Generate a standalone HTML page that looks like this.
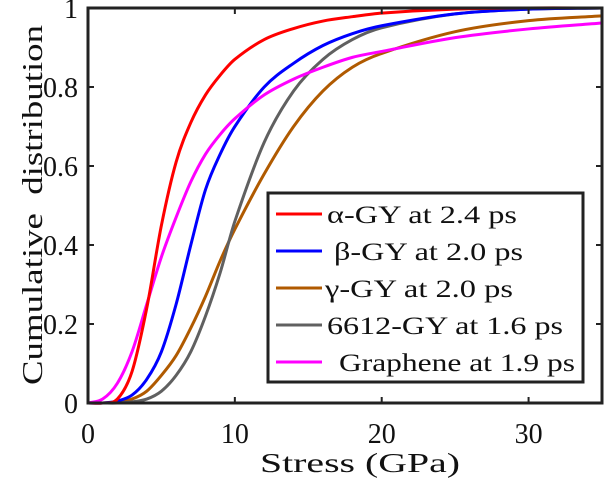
<!DOCTYPE html>
<html><head><meta charset="utf-8"><style>
body{margin:0;background:#fff;}
svg text{font-family:"Liberation Serif","Noto Serif CJK SC","DejaVu Serif",serif;fill:#111;}
</style></head><body>
<svg id="c" width="605" height="480">
<g id="marks"></g>
<rect x="88" y="8" width="514" height="395" fill="none" stroke="#222" stroke-width="3"/>
<g id="axes"></g>
<text x="-205" y="42" transform="rotate(-90)" text-anchor="middle" font-size="28" textLength="360" lengthAdjust="spacingAndGlyphs" xml:space="preserve">Cumulative  distribution</text>
<text x="360" y="472" text-anchor="middle" font-size="27" textLength="200" lengthAdjust="spacingAndGlyphs">Stress (GPa)</text>
<g id="legend">
<rect x="268" y="193" width="315" height="189" fill="#fff" stroke="#222" stroke-width="3"/>
</g>
</svg>
<script>
const stress=[0,1,2,3,4,5,6,7,8,9,10,12,14,16,18,20,25,30,35];
const alphaGY=[0,0,0.01,0.08,0.24,0.45,0.61,0.71,0.78,0.83,0.87,0.92,0.948,0.967,0.978,0.987,0.997,1,1];
const betaGY=[0,0,0.005,0.02,0.06,0.13,0.25,0.4,0.54,0.63,0.7,0.8,0.86,0.905,0.935,0.955,0.985,0.997,1];
const gammaGY=[0,0,0.002,0.01,0.03,0.07,0.12,0.19,0.27,0.36,0.44,0.58,0.7,0.79,0.85,0.885,0.94,0.968,0.98];
const gy6612=[0,0,0,0.003,0.01,0.03,0.07,0.13,0.22,0.33,0.46,0.66,0.79,0.87,0.92,0.95,0.985,0.997,1];
const graphene=[0,0.01,0.05,0.13,0.25,0.37,0.47,0.56,0.63,0.68,0.72,0.78,0.82,0.85,0.875,0.89,0.925,0.947,0.962];
const seriesNames=["α-GY at 2.4 ps","β-GY at 2.0 ps","γ-GY at 2.0 ps","6612-GY at 1.6 ps","Graphene at 1.9 ps"];
const xTicks=[0,10,20,30];
const yTicks=[0,0.2,0.4,0.6,0.8,1];
const yTickLabels=["0","0.2","0.4","0.6","0.8","1"];
const NS="http://www.w3.org/2000/svg";
const X=v=>88+v*514/35, Y=v=>403-v*395;
const series=[[alphaGY,"#ff0000","alpha-gy"],[betaGY,"#0000ff","beta-gy"],[gammaGY,"#b05a00","gamma-gy"],[gy6612,"#606060","6612-gy"],[graphene,"#ff00ff","graphene"]];
const legendX=[327,334,325,327,339];
const legendW=[190,189,188,236,236];
const order=[2,3,1,4,0];
const marks=document.getElementById('marks');
function pathFor(vals){
  const p=stress.map((s,i)=>[X(s),Y(vals[i])]);
  const n=p.length, m=[];
  for(let i=0;i<n;i++){
    const a=p[Math.max(0,i-1)], b=p[Math.min(n-1,i+1)];
    m.push((b[1]-a[1])/(b[0]-a[0]));
  }
  let d=`M${p[0][0]},${p[0][1]}`;
  for(let i=0;i<n-1;i++){
    const p1=p[i],p2=p[i+1],h=p2[0]-p1[0];
    d+=`C${p1[0]+h/3},${p1[1]+m[i]*h/3} ${p2[0]-h/3},${p2[1]-m[i+1]*h/3} ${p2[0]},${p2[1]}`;
  }
  return d;
}
order.forEach(k=>{
  const [vals,col,nm]=series[k];
  const el=document.createElementNS(NS,'path');
  el.setAttribute('d',pathFor(vals));
  el.setAttribute('fill','none');el.setAttribute('stroke',col);el.setAttribute('stroke-width','3');
  
  
  marks.appendChild(el);
});
const axes=document.getElementById('axes');
xTicks.forEach(t=>{
  const l=document.createElementNS(NS,'path');
  l.setAttribute('d',`M${X(t)},403v-6M${X(t)},8v6`);l.setAttribute('stroke','#222');l.setAttribute('stroke-width','2');
  
  
  axes.appendChild(l);
  const tx=document.createElementNS(NS,'text');
  tx.setAttribute('x',X(t));tx.setAttribute('y',443);tx.setAttribute('text-anchor','middle');tx.setAttribute('font-size','28');
  tx.textContent=t;
  
  
  axes.appendChild(tx);
});
yTicks.forEach((t,i)=>{
  const l=document.createElementNS(NS,'path');
  l.setAttribute('d',`M88,${Y(t)}h6M602,${Y(t)}h-6`);l.setAttribute('stroke','#222');l.setAttribute('stroke-width','2');
  
  
  axes.appendChild(l);
  const tx=document.createElementNS(NS,'text');
  tx.setAttribute('x',78);tx.setAttribute('y',Y(t)+10);tx.setAttribute('text-anchor','end');tx.setAttribute('font-size','28');
  tx.textContent=yTickLabels[i];
  
  
  axes.appendChild(tx);
});
const lg=document.getElementById('legend');
series.forEach(([v,col,nm],i)=>{
  const y=214+i*37;
  const l=document.createElementNS(NS,'line');
  l.setAttribute('x1',276);l.setAttribute('x2',322);l.setAttribute('y1',y);l.setAttribute('y2',y);
  l.setAttribute('stroke',col);l.setAttribute('stroke-width','3');
  
  
  lg.appendChild(l);
  const tx=document.createElementNS(NS,'text');
  tx.setAttribute('x',legendX[i]);tx.setAttribute('y',y+9);tx.setAttribute('font-size','25');
  tx.setAttribute('textLength',legendW[i]);tx.setAttribute('lengthAdjust','spacingAndGlyphs');
  tx.textContent=seriesNames[i];
  
  
  lg.appendChild(tx);
});
</script>
</body></html>
